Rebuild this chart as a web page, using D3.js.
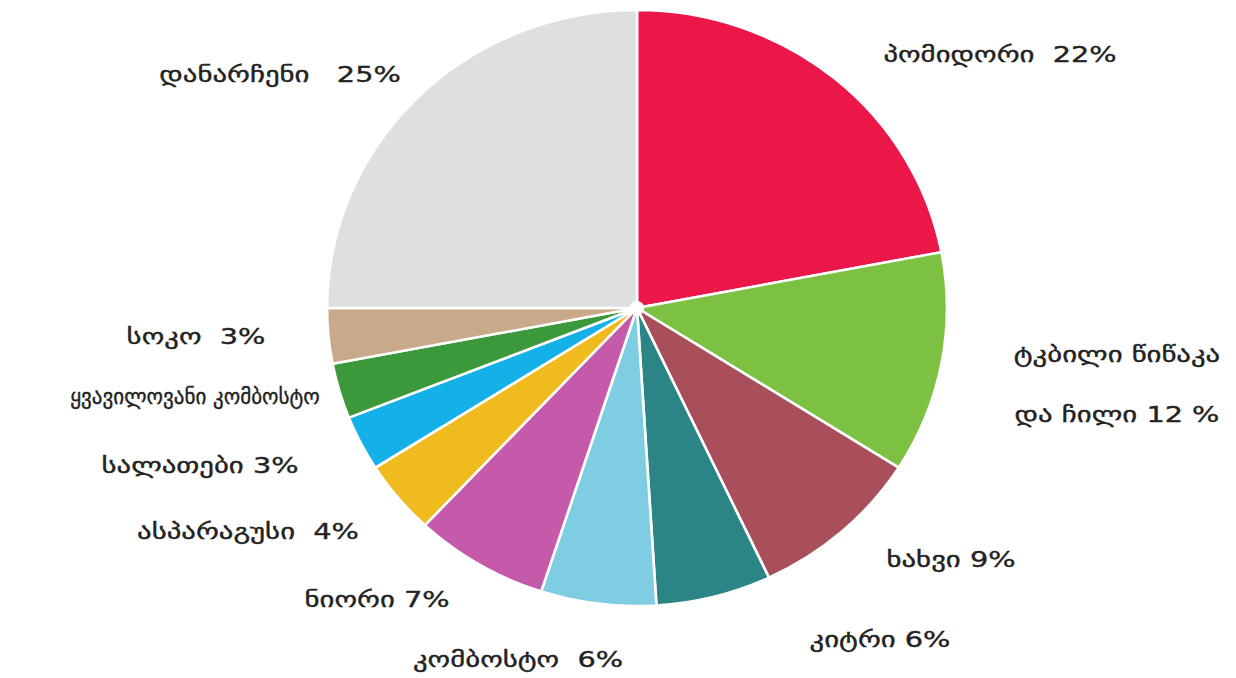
<!DOCTYPE html>
<html>
<head>
<meta charset="utf-8">
<script src="https://cdn.jsdelivr.net/npm/d3@7"></script>
<style>
    body { margin: 0; background: #fff; }
    text { font-family: "DejaVu Sans", sans-serif; fill: #222; stroke: #222; stroke-width: 0.35px; white-space: pre; }
</style>
</head>
<body>
<div id="chart"></div>
<script>
const names = [
    'პომიდორი', 'ტკბილი წიწაკა და ჩილი', 'ხახვი', 'კიტრი', 'კომბოსტო',
    'ნიორი', 'ასპარაგუსი', 'სალათები', 'ყვავილოვანი კომბოსტო', 'სოკო', 'დანარჩენი'
];
const shares = [22, 12, 9, 6, 6, 7, 4, 3, 3, 3, 25];
const labels = [
    ['პომიდორი  22%'],
    ['ტკბილი წიწაკა', 'და ჩილი 12 %'],
    ['ხახვი 9%'],
    ['კიტრი 6%'],
    ['კომბოსტო  6%'],
    ['ნიორი 7%'],
    ['ასპარაგუსი  4%'],
    ['სალათები 3%'],
    ['ყვავილოვანი კომბოსტო'],
    ['სოკო  3%'],
    ['დანარჩენი   25%']
];
const colors = [
    '#ea1748', '#7dc143', '#a84f5b', '#2b8485', '#7fcde3',
    '#c45aa9', '#f0bb1f', '#14b1e9', '#3b983b', '#c8a98a', '#dedfe1'
];

// hand placed label centres, as in the original artwork
const labelSpots = [
    [1000, 55], [1117, 355], [951, 560], [880, 640], [518, 660],
    [377, 600], [248, 532], [200, 466], [195, 397], [196, 337], [280, 75]
];

const width = 1236;
const height = 678;
const cx = 637;
const cy = 308;
const radius = 298;

const svg = d3
    .select('#chart')
    .append('svg')
    .attr('width', width)
    .attr('height', height);

const pie = d3.pie().sort(null).value(d => d);
const arc = d3.arc().innerRadius(0).outerRadius(radius);

const g = svg
    .append('g')
    .attr('transform', 'translate(' + cx + ',' + cy + ') scale(1.04,1)');

g.selectAll('path')
    .data(pie(shares))
    .enter()
    .append('path')
    .attr('d', arc)
    .attr('fill', (d, i) => colors[i])
    .attr('stroke', '#fff')
    .attr('stroke-width', 2.5);

g.append('circle').attr('r', 7).attr('fill', '#fff');

// the source font is much wider than DejaVu, so stretch the labels sideways
const lab = svg
    .selectAll('text.label')
    .data(labels)
    .enter()
    .append('text')
    .attr('class', 'label')
    .attr('text-anchor', 'middle')
    .attr('font-size', 21)
    .attr('transform', (d, i) =>
        'translate(' + labelSpots[i][0] + ',' + labelSpots[i][1] + ') scale(' + (i === 8 ? 1 : 1.37) + ',1)');

lab.selectAll('tspan')
    .data(d => d)
    .enter()
    .append('tspan')
    .attr('x', 0)
    .attr('y', (d, i) => i * 60)
    .attr('dy', '0.35em')
    .text(d => d);
</script>
</body>
</html>
